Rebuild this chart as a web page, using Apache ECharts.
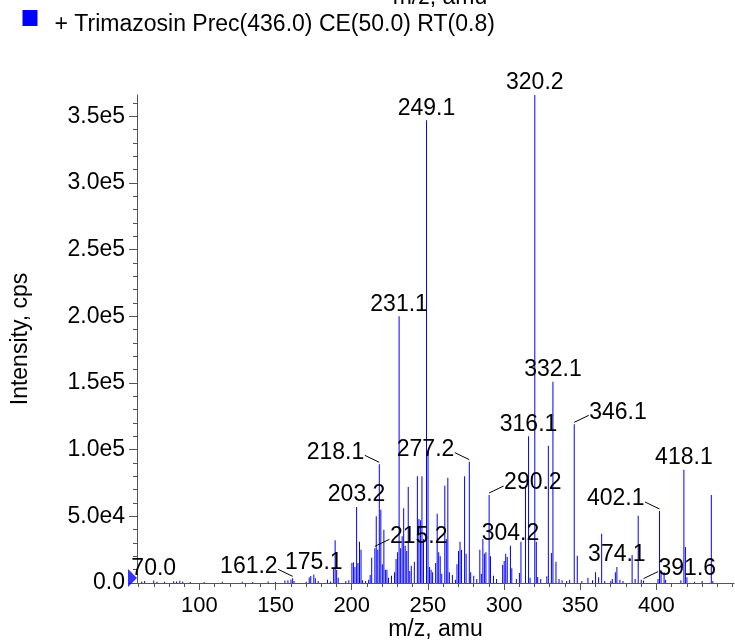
<!DOCTYPE html>
<html>
<head>
<meta charset="utf-8">
<script src="https://cdn.jsdelivr.net/npm/echarts@6/dist/echarts.min.js"></script>
<style>
html,body{margin:0;padding:0;background:#fff;}
#chart{width:735px;height:642px;}
</style>
</head>
<body>
<div id="chart"></div>
<script>
// ---------------- data ----------------
const seriesName = '+ Trimazosin Prec(436.0) CE(50.0) RT(0.8)';
const xAxisTitle = 'm/z, amu';
const yAxisTitle = 'Intensity, cps';

const mzValues = [
  62.1, 64.0, 70.0, 72.1, 77.0, 83.1, 85.0, 87.1, 89.0, 94.0,
  103.1, 115.0, 128.1, 135.0, 145.1, 150.0, 156.1, 158.1, 160.1, 161.2,
  162.1, 170.1, 172.1, 173.1, 175.1, 176.1, 178.0, 184.1, 186.1, 188.1,
  189.1, 190.1, 191.1, 196.1, 198.1, 200.1, 201.1, 202.1, 203.2, 204.1,
  205.1, 206.1, 207.1, 209.1, 211.1, 212.1, 213.1, 215.2, 216.1, 217.1,
  218.1, 219.1, 220.1, 221.1, 222.1, 223.1, 224.1, 226.1, 228.1, 229.1,
  230.1, 231.1, 232.1, 233.1, 234.1, 235.1, 236.1, 237.1, 238.1, 239.1,
  241.1, 243.1, 244.1, 245.1, 246.1, 247.1, 249.1, 250.1, 251.1, 252.1,
  253.1, 255.1, 256.1, 257.1, 258.1, 259.1, 261.1, 262.1, 263.1, 264.1,
  266.1, 268.1, 269.1, 270.1, 271.1, 272.1, 274.1, 275.1, 277.2, 278.1,
  280.1, 282.1, 284.1, 285.1, 286.1, 287.1, 288.1, 290.2, 291.1, 293.1,
  295.1, 299.1, 300.1, 301.1, 302.1, 304.2, 305.1, 308.1, 310.1, 311.1,
  314.1, 316.1, 317.1, 320.2, 321.2, 322.1, 324.1, 328.1, 329.1, 331.1,
  332.1, 334.1, 336.1, 338.1, 341.1, 343.1, 346.1, 348.1, 351.1, 355.1,
  358.1, 360.1, 362.1, 364.1, 366.1, 370.1, 371.1, 373.1, 374.1, 376.1,
  378.1, 384.1, 386.1, 388.1, 390.1, 391.6, 401.1, 402.1, 403.1, 405.1,
  406.1, 416.1, 418.1, 419.1, 420.1, 425.1, 430.1, 436.1, 437.1
];
const intensityValues = [
  1200, 1500, 1800, 1000, 900, 1400, 1200, 1600, 1100, 800,
  700, 900, 1000, 700, 1100, 800, 1800, 2000, 2600, 3500,
  1500, 900, 4200, 5200, 6300, 3500, 1500, 2500, 1200, 11000,
  32000, 10000, 4000, 1500, 2000, 15000, 15500, 12000, 57000, 15000,
  31000, 25000, 2000, 1500, 2500, 6000, 19000, 26000, 50000, 25000,
  89000, 55000, 14000, 40000, 10000, 10000, 4000, 5500, 8000, 18000,
  23000, 200000, 26000, 35000, 56000, 28000, 24000, 72000, 9000, 13000,
  16000, 80000, 48000, 47000, 80000, 33000, 347000, 98000, 12000, 10000,
  8000, 15000, 52000, 23000, 20000, 7000, 73000, 33000, 79000, 8000,
  6000, 2500, 14000, 24000, 31000, 25000, 80000, 22000, 91000, 8000,
  5500, 3000, 25000, 7000, 33000, 22000, 23000, 66000, 20000, 5500,
  3000, 13500, 16500, 22000, 19500, 28000, 11000, 3000, 7500, 31000,
  73000, 110000, 4000, 366000, 31000, 4500, 3000, 5000, 103000, 22500,
  151000, 16000, 3000, 2000, 1500, 2500, 119000, 20500, 1500, 4000,
  2000, 8000, 4300, 37000, 1500, 1500, 3000, 8000, 12000, 2500,
  1500, 21000, 3000, 50500, 2500, 1800, 3000, 54000, 8000, 8000,
  2500, 2000, 85000, 27000, 4300, 1000, 1500, 66000, 1500
];

const labeledMz = [70.0, 161.2, 175.1, 203.2, 215.2, 218.1, 231.1, 249.1, 277.2, 290.2,
                   304.2, 316.1, 320.2, 332.1, 346.1, 374.1, 391.6, 402.1, 418.1];

const xTickValues = [100, 150, 200, 250, 300, 350, 400];
const xMinorTickValues = [60, 70, 80, 90, 100, 110, 120, 130, 140, 150, 160, 170, 180, 190, 200,
  210, 220, 230, 240, 250, 260, 270, 280, 290, 300, 310, 320, 330, 340, 350, 360, 370, 380, 390,
  400, 410, 420, 430, 440, 450];
const yTickValues = [0, 50000, 100000, 150000, 200000, 250000, 300000, 350000];
const yMinorTickValues = [0, 10000, 20000, 30000, 40000, 50000, 60000, 70000, 80000, 90000, 100000,
  110000, 120000, 130000, 140000, 150000, 160000, 170000, 180000, 190000, 200000, 210000, 220000,
  230000, 240000, 250000, 260000, 270000, 280000, 290000, 300000, 310000, 320000, 330000, 340000,
  350000, 360000];
const xRange = [59, 451];
const yRange = [0, 366000];

// label side for peaks whose label sits beside the peak with a leader line (style only)
const leaderSide = {'161.2': -1, '218.1': -1, '215.2': 1, '277.2': -1, '290.2': 1,
                    '346.1': 1, '391.6': 1, '402.1': -1};

// ---------------- chart ----------------
const FONT = '"Liberation Sans", Arial, Helvetica, sans-serif';
const BLUE = '#0000ff';
const AXIS_COLOR = '#555';
// legend swatch: filled square in the upper part of a taller (transparent-extended) icon box
const LEGEND_ICON = 'path://M0,0L15,0L15,16L0,16Z M0,29.9L0.05,30L0,30Z';

const peakData = mzValues.map((m, i) => [m, intensityValues[i]]);
const labelData = labeledMz.map(m => [m, intensityValues[mzValues.indexOf(m)]]);

function yFmt(v) {
  if (v === 0) return '0.0';
  return v.toExponential(1).replace('e+', 'e');
}

const gridPos = {left: 137, right: 1, top: 95, bottom: 59, containLabel: false, outerBoundsMode: 'none'};

const chart = echarts.init(document.getElementById('chart'), null, {renderer: 'canvas'});
chart.setOption({
  animation: false,
  backgroundColor: '#fff',
  title: {
    text: xAxisTitle,
    left: 435,
    top: -19,
    textAlign: 'center',
    textStyle: {fontFamily: FONT, fontSize: 23, fontWeight: 'normal', color: '#000'}
  },
  legend: {
    data: [seriesName],
    left: 17.5,
    top: 5,
    icon: LEGEND_ICON,
    itemWidth: 15,
    itemHeight: 32,
    selectedMode: false,
    textStyle: {fontFamily: FONT, fontSize: 23, color: '#000', padding: [0, 0, 0, 12]}
  },
  grid: [
    Object.assign({}, gridPos),
    Object.assign({}, gridPos)
  ],
  xAxis: [
    {
      type: 'value', gridIndex: 0, min: xRange[0], max: xRange[1], position: 'bottom',
      name: xAxisTitle, nameLocation: 'middle', nameGap: 35, nameMoveOverlap: false,
      nameTextStyle: {fontFamily: FONT, fontSize: 23, color: '#000'},
      axisLine: {show: true, lineStyle: {color: AXIS_COLOR, width: 1}},
      axisTick: {show: true, customValues: xTickValues, length: 7, lineStyle: {color: AXIS_COLOR}},
      axisLabel: {customValues: xTickValues, fontFamily: FONT, fontSize: 22, color: '#000', margin: 12},
      splitLine: {show: false}
    },
    {
      type: 'value', gridIndex: 1, min: xRange[0], max: xRange[1], position: 'bottom',
      axisLine: {show: false},
      axisTick: {show: true, customValues: xMinorTickValues, length: 4, lineStyle: {color: AXIS_COLOR}},
      axisLabel: {show: false},
      splitLine: {show: false}
    }
  ],
  yAxis: [
    {
      type: 'value', gridIndex: 0, min: yRange[0], max: yRange[1], position: 'left',
      name: yAxisTitle, nameLocation: 'middle', nameGap: 105, nameMoveOverlap: false,
      nameTextStyle: {fontFamily: FONT, fontSize: 23, color: '#000'},
      axisLine: {show: true, lineStyle: {color: AXIS_COLOR, width: 1}},
      axisTick: {show: true, customValues: yTickValues, length: 8, lineStyle: {color: AXIS_COLOR}},
      axisLabel: {customValues: yTickValues, fontFamily: FONT, fontSize: 23, color: '#000', margin: 12, formatter: yFmt},
      splitLine: {show: false}
    },
    {
      type: 'value', gridIndex: 1, min: yRange[0], max: yRange[1], position: 'left',
      axisLine: {show: false},
      axisTick: {show: true, customValues: yMinorTickValues, length: 4, lineStyle: {color: AXIS_COLOR}},
      axisLabel: {show: false},
      splitLine: {show: false}
    }
  ],
  series: [
    {
      name: seriesName,
      type: 'bar',
      xAxisIndex: 0, yAxisIndex: 0,
      barWidth: 1,
      itemStyle: {color: BLUE},
      data: peakData,
      silent: true,
      z: 2
    },
    {
      name: 'precursor-marker',
      type: 'scatter',
      xAxisIndex: 0, yAxisIndex: 0,
      data: [[xRange[0], 0]],
      symbol: 'triangle',
      symbolRotate: -90,
      symbolSize: [18, 9],
      symbolOffset: [-4.5, -5],
      itemStyle: {color: BLUE},
      clip: false,
      silent: true,
      z: 6
    },
    {
      name: 'peak-labels',
      type: 'custom',
      xAxisIndex: 0, yAxisIndex: 0,
      data: labelData,
      silent: true,
      clip: false,
      z: 5,
      renderItem: function (params, api) {
        const mz = api.value(0);
        const p = api.coord([mz, api.value(1)]);
        const key = mz.toFixed(1);
        const side = leaderSide[key] || 0;
        if (!side) {
          return {
            type: 'text', x: p[0], y: p[1] - 12,
            style: {text: key, fontFamily: FONT, fontSize: 23, fill: '#000', align: 'center', verticalAlign: 'middle'}
          };
        }
        const sx = p[0] + side * 14.5;
        const sy = p[1] - 9;
        return {
          type: 'group',
          children: [
            {type: 'line', shape: {x1: sx, y1: sy, x2: p[0], y2: p[1] - 2},
             style: {stroke: '#000', lineWidth: 1}},
            {type: 'text', x: sx + side * 0.5, y: sy - 3,
             style: {text: key, fontFamily: FONT, fontSize: 23, fill: '#000',
                     align: side > 0 ? 'left' : 'right', verticalAlign: 'middle'}}
          ]
        };
      }
    }
  ]
});
</script>
</body>
</html>
